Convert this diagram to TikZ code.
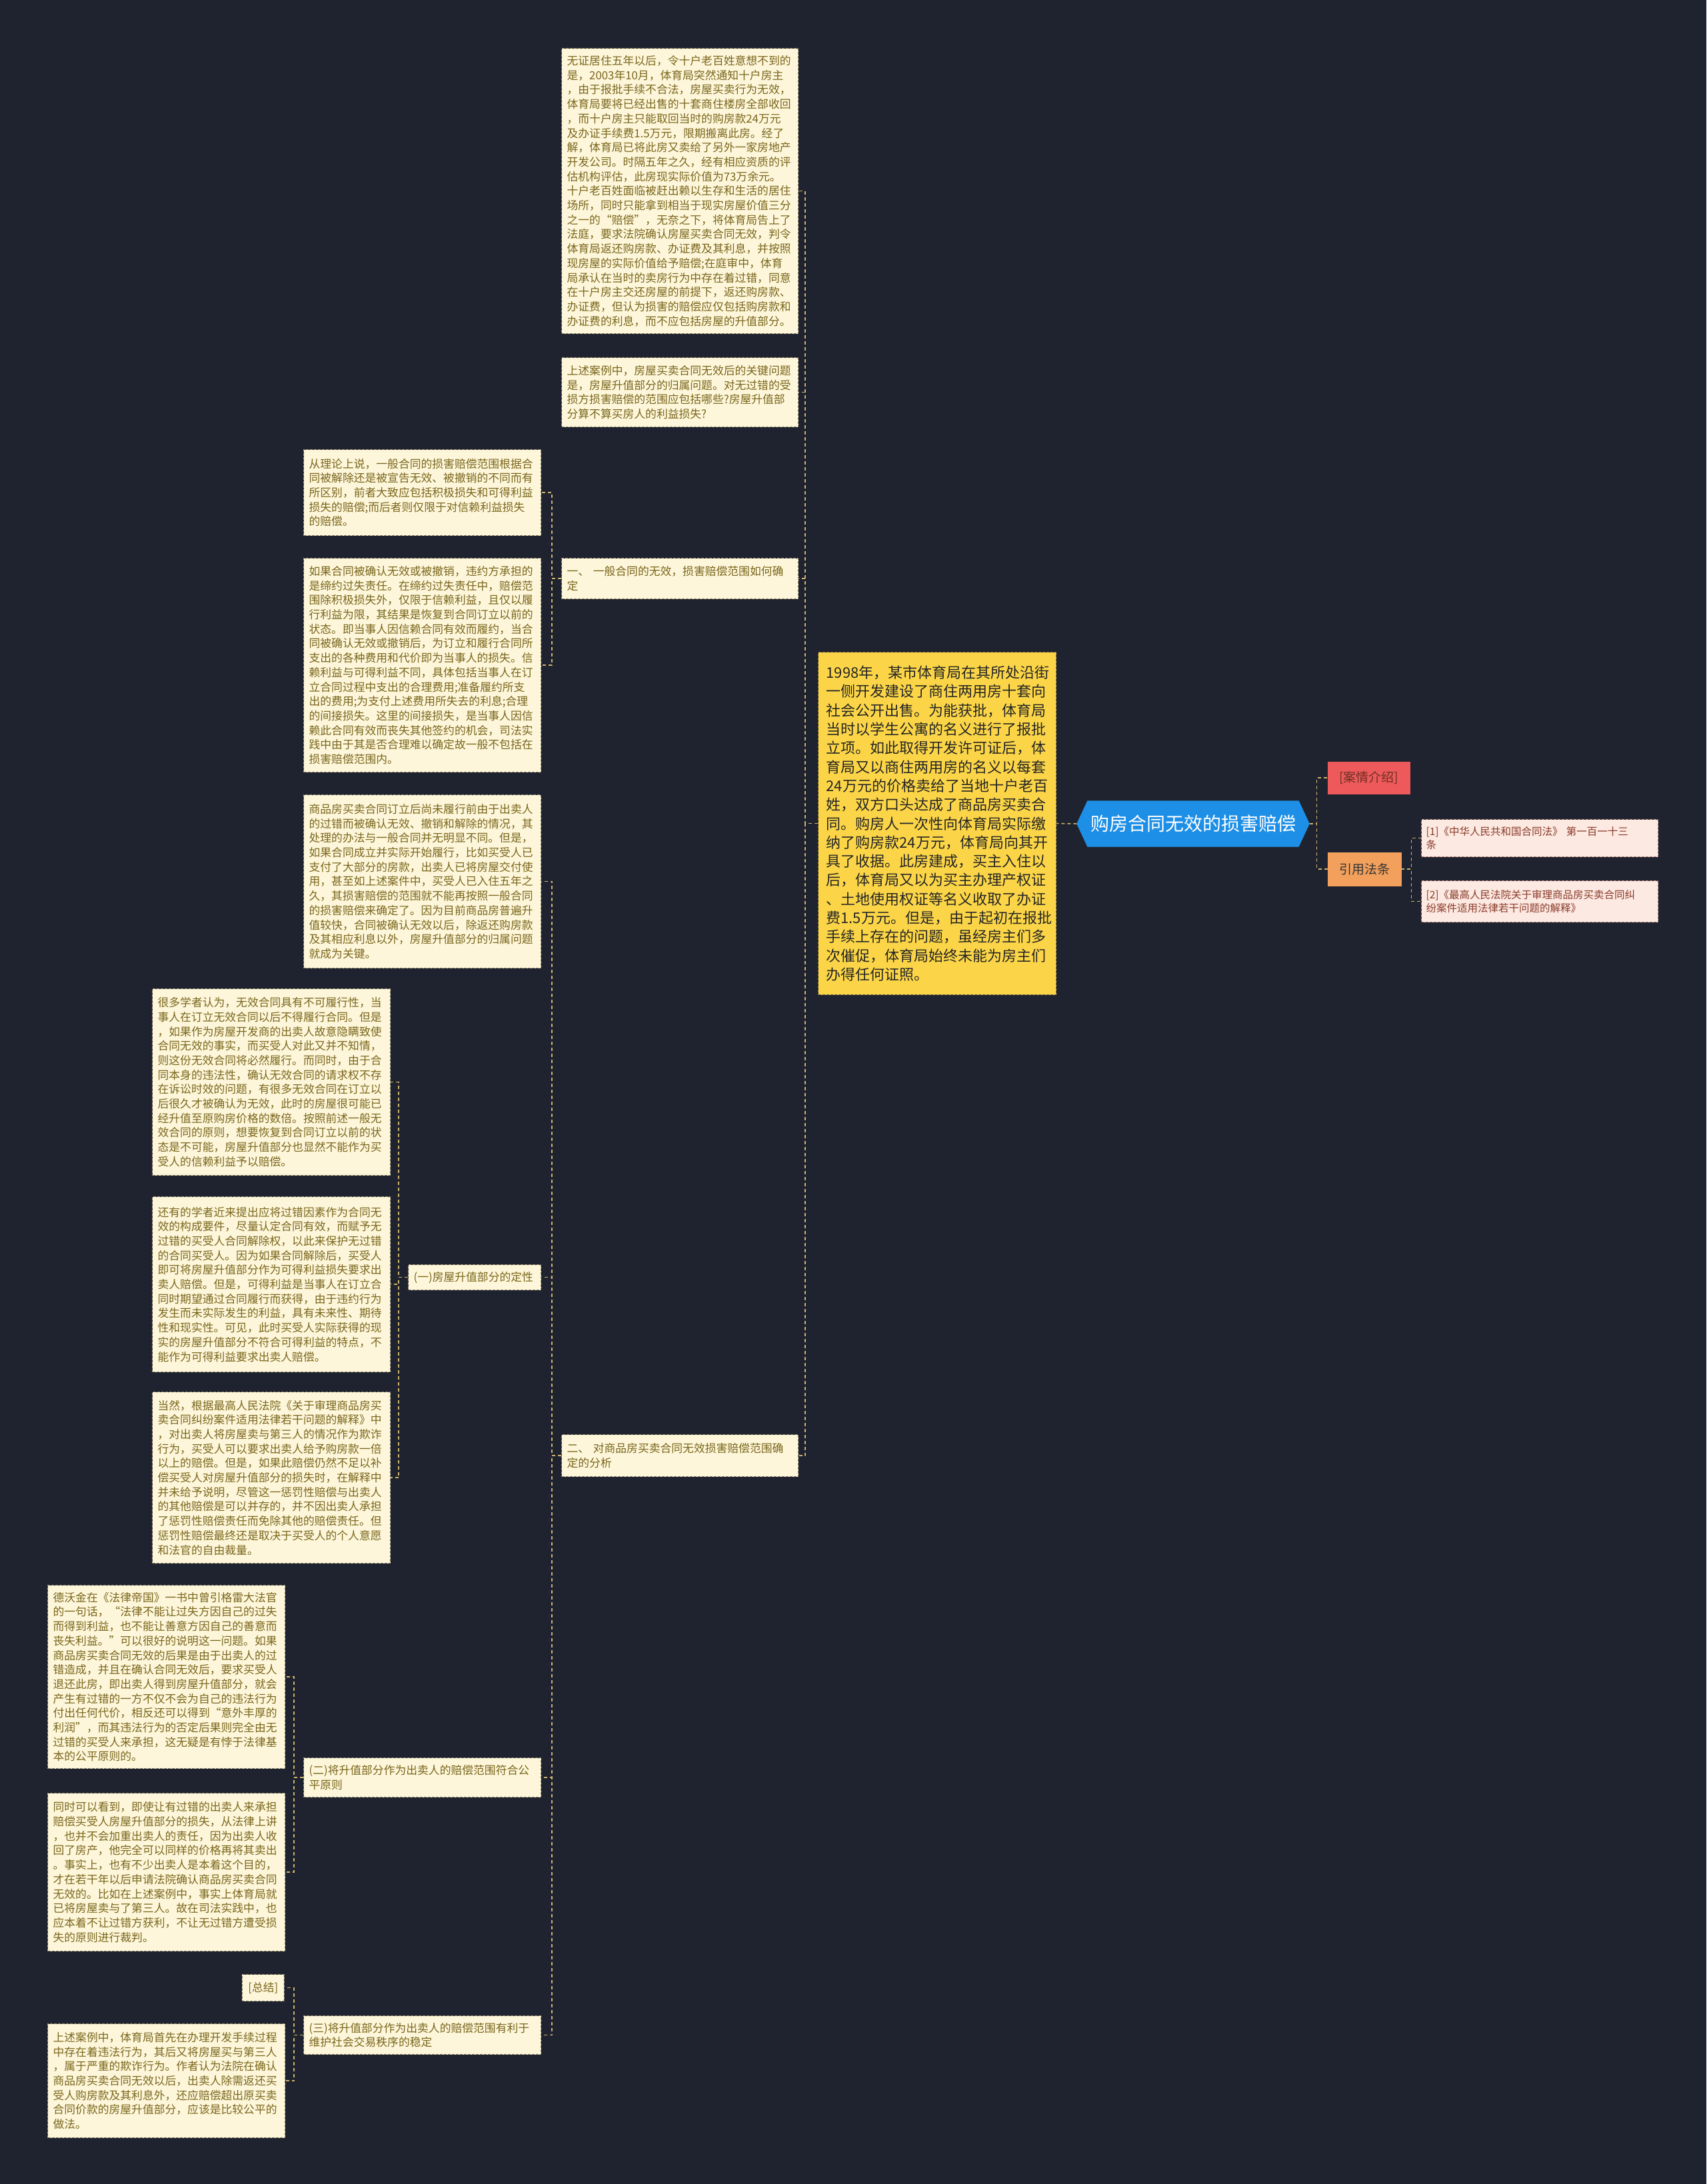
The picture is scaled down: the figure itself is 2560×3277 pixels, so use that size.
\documentclass[tikz,border=0pt]{standalone}
\usepackage{fontspec}
\setmainfont{Noto Sans CJK SC}
\usetikzlibrary{shapes.symbols}
\definecolor{bg}{HTML}{1F2330}
\definecolor{leaffill}{HTML}{FDF6DA}
\definecolor{leafborder}{HTML}{8C8466}
\definecolor{leaftext}{HTML}{7A661C}
\definecolor{conncol}{HTML}{CDB26A}
\definecolor{yellowfill}{HTML}{FBD547}
\definecolor{rootfill}{HTML}{1E8FE6}
\definecolor{redfill}{HTML}{EE5A5C}
\definecolor{orangefill}{HTML}{F2A05C}
\definecolor{reffill}{HTML}{FCE9E1}
\definecolor{reftext}{HTML}{8A3A2A}
\begin{document}
\begin{tikzpicture}[x=1pt,y=-1pt,
  leaf/.style={draw=leafborder, dashed, dash pattern=on 4pt off 2pt, line width=1.2pt, fill=leaffill, text=leaftext,
    font=\fontsize{16.8}{21.7}\selectfont, align=left, inner xsep=8pt, inner ysep=5pt, anchor=north west},
  conn/.style={draw=conncol, dashed, dash pattern=on 5pt off 4pt, line width=1.5pt},
  tag/.style={font=\fontsize{19}{23}\selectfont, inner xsep=6pt, inner ysep=4pt, anchor=north west, align=center},
  ref/.style={draw=reftext!60, dashed, dash pattern=on 4pt off 2pt, line width=1.1pt, fill=reffill, text=reftext,
    font=\fontsize{15.5}{20}\selectfont, align=left, inner xsep=7pt, inner ysep=4pt, anchor=north west}
]
\useasboundingbox (0,0) rectangle (2560,3277);
\fill[bg] (0,0) rectangle (2560,3277);

% root
\node[signal, signal to=east and west, signal pointer angle=130, fill=rootfill, draw=rootfill, text=white,
  font=\fontsize{28}{32}\selectfont, minimum width=349pt, minimum height=69pt, inner xsep=4pt] (R) at (1790,1236) {购房合同无效的损害赔偿};

% yellow case box
\node[draw=bg!60!yellowfill, dashed, dash pattern=on 4pt off 2pt, line width=1.2pt, fill=yellowfill, text=black!85, anchor=north west,
  font=\fontsize{22}{28.3}\selectfont, align=left, inner xsep=12pt, text width=333pt, minimum height=514pt] (Y) at (1227,978) {%
1998年，某市体育局在其所处沿街\\
一侧开发建设了商住两用房十套向\\
社会公开出售。为能获批，体育局\\
当时以学生公寓的名义进行了报批\\
立项。如此取得开发许可证后，体\\
育局又以商住两用房的名义以每套\\
24万元的价格卖给了当地十户老百\\
姓，双方口头达成了商品房买卖合\\
同。购房人一次性向体育局实际缴\\
纳了购房款24万元，体育局向其开\\
具了收据。此房建成，买主入住以\\
后，体育局又以为买主办理产权证\\
、土地使用权证等名义收取了办证\\
费1.5万元。但是，由于起初在报批\\
手续上存在的问题，虽经房主们多\\
次催促，体育局始终未能为房主们\\
办得任何证照。};

% right side
\node[tag, fill=redfill, draw=redfill, text=reftext!80!black, minimum width=123pt, minimum height=48pt] (K1) at (1992,1143) {[案情介绍]};
\node[tag, fill=orangefill, draw=orangefill, text=black!80, minimum width=110pt, minimum height=50pt] (K2) at (1992,1279) {引用法条};
\node[ref, text width=341pt, minimum height=56pt] (F1) at (2132,1229) {[1]《中华人民共和国合同法》 第一百一十三\\条};
\node[ref, text width=341pt, minimum height=62pt] (F2) at (2132,1321) {[2]《最高人民法院关于审理商品房买卖合同纠\\纷案件适用法律若干问题的解释》};

% level A
\node[leaf, text width=339pt, minimum height=428pt] (A1) at (842,72) {%
无证居住五年以后，令十户老百姓意想不到的\\
是，2003年10月，体育局突然通知十户房主\\
，由于报批手续不合法，房屋买卖行为无效，\\
体育局要将已经出售的十套商住楼房全部收回\\
，而十户房主只能取回当时的购房款24万元\\
及办证手续费1.5万元，限期搬离此房。经了\\
解，体育局已将此房又卖给了另外一家房地产\\
开发公司。时隔五年之久，经有相应资质的评\\
估机构评估，此房现实际价值为73万余元。\\
十户老百姓面临被赶出赖以生存和生活的居住\\
场所，同时只能拿到相当于现实房屋价值三分\\
之一的“赔偿”，无奈之下，将体育局告上了\\
法庭，要求法院确认房屋买卖合同无效，判令\\
体育局返还购房款、办证费及其利息，并按照\\
现房屋的实际价值给予赔偿;在庭审中，体育\\
局承认在当时的卖房行为中存在着过错，同意\\
在十户房主交还房屋的前提下，返还购房款、\\
办证费，但认为损害的赔偿应仅包括购房款和\\
办证费的利息，而不应包括房屋的升值部分。};
\node[leaf, text width=339pt, minimum height=104pt] (A2) at (842,536) {%
上述案例中，房屋买卖合同无效后的关键问题\\
是，房屋升值部分的归属问题。对无过错的受\\
损方损害赔偿的范围应包括哪些?房屋升值部\\
分算不算买房人的利益损失?};
\node[leaf, text width=339pt, minimum height=61pt] (A3) at (842,837) {一、 一般合同的无效，损害赔偿范围如何确\\定};
\node[leaf, text width=339pt, minimum height=63pt] (A4) at (842,2152) {二、 对商品房买卖合同无效损害赔偿范围确\\定的分析};

% level B
\node[leaf, text width=340pt, minimum height=129pt] (B1) at (455,674) {%
从理论上说，一般合同的损害赔偿范围根据合\\
同被解除还是被宣告无效、被撤销的不同而有\\
所区别，前者大致应包括积极损失和可得利益\\
损失的赔偿;而后者则仅限于对信赖利益损失\\
的赔偿。};
\node[leaf, text width=340pt, minimum height=321pt] (B2) at (455,837) {%
如果合同被确认无效或被撤销，违约方承担的\\
是缔约过失责任。在缔约过失责任中，赔偿范\\
围除积极损失外，仅限于信赖利益，且仅以履\\
行利益为限，其结果是恢复到合同订立以前的\\
状态。即当事人因信赖合同有效而履约，当合\\
同被确认无效或撤销后，为订立和履行合同所\\
支出的各种费用和代价即为当事人的损失。信\\
赖利益与可得利益不同，具体包括当事人在订\\
立合同过程中支出的合理费用;准备履约所支\\
出的费用;为支付上述费用所失去的利息;合理\\
的间接损失。这里的间接损失，是当事人因信\\
赖此合同有效而丧失其他签约的机会，司法实\\
践中由于其是否合理难以确定故一般不包括在\\
损害赔偿范围内。};
\node[leaf, text width=340pt, minimum height=260pt] (B3) at (455,1192) {%
商品房买卖合同订立后尚未履行前由于出卖人\\
的过错而被确认无效、撤销和解除的情况，其\\
处理的办法与一般合同并无明显不同。但是，\\
如果合同成立并实际开始履行，比如买受人已\\
支付了大部分的房款，出卖人已将房屋交付使\\
用，甚至如上述案件中，买受人已入住五年之\\
久，其损害赔偿的范围就不能再按照一般合同\\
的损害赔偿来确定了。因为目前商品房普遍升\\
值较快，合同被确认无效以后，除返还购房款\\
及其相应利息以外，房屋升值部分的归属问题\\
就成为关键。};
\node[leaf, text width=183pt, minimum height=38pt] (B4) at (612,1897) {(一)房屋升值部分的定性};
\node[leaf, text width=340pt, minimum height=59pt] (B5) at (455,2637) {(二)将升值部分作为出卖人的赔偿范围符合公\\平原则};
\node[leaf, text width=340pt, minimum height=58pt] (B6) at (455,3024) {(三)将升值部分作为出卖人的赔偿范围有利于\\维护社会交易秩序的稳定};

% level C
\node[leaf, text width=341pt, minimum height=280pt] (C1) at (228,1483) {%
很多学者认为，无效合同具有不可履行性，当\\
事人在订立无效合同以后不得履行合同。但是\\
，如果作为房屋开发商的出卖人故意隐瞒致使\\
合同无效的事实，而买受人对此又并不知情，\\
则这份无效合同将必然履行。而同时，由于合\\
同本身的违法性，确认无效合同的请求权不存\\
在诉讼时效的问题，有很多无效合同在订立以\\
后很久才被确认为无效，此时的房屋很可能已\\
经升值至原购房价格的数倍。按照前述一般无\\
效合同的原则，想要恢复到合同订立以前的状\\
态是不可能，房屋升值部分也显然不能作为买\\
受人的信赖利益予以赔偿。};
\node[leaf, text width=341pt, minimum height=263pt] (C2) at (228,1795) {%
还有的学者近来提出应将过错因素作为合同无\\
效的构成要件，尽量认定合同有效，而赋予无\\
过错的买受人合同解除权，以此来保护无过错\\
的合同买受人。因为如果合同解除后，买受人\\
即可将房屋升值部分作为可得利益损失要求出\\
卖人赔偿。但是，可得利益是当事人在订立合\\
同时期望通过合同履行而获得，由于违约行为\\
发生而未实际发生的利益，具有未来性、期待\\
性和现实性。可见，此时买受人实际获得的现\\
实的房屋升值部分不符合可得利益的特点，不\\
能作为可得利益要求出卖人赔偿。};
\node[leaf, text width=341pt, minimum height=257pt] (C3) at (228,2088) {%
当然，根据最高人民法院《关于审理商品房买\\
卖合同纠纷案件适用法律若干问题的解释》中\\
，对出卖人将房屋卖与第三人的情况作为欺诈\\
行为，买受人可以要求出卖人给予购房款一倍\\
以上的赔偿。但是，如果此赔偿仍然不足以补\\
偿买受人对房屋升值部分的损失时，在解释中\\
并未给予说明，尽管这一惩罚性赔偿与出卖人\\
的其他赔偿是可以并存的，并不因出卖人承担\\
了惩罚性赔偿责任而免除其他的赔偿责任。但\\
惩罚性赔偿最终还是取决于买受人的个人意愿\\
和法官的自由裁量。};

% level D
\node[leaf, text width=340pt, minimum height=275pt] (D1) at (71,2378) {%
德沃金在《法律帝国》一书中曾引格雷大法官\\
的一句话，“法律不能让过失方因自己的过失\\
而得到利益，也不能让善意方因自己的善意而\\
丧失利益。”可以很好的说明这一问题。如果\\
商品房买卖合同无效的后果是由于出卖人的过\\
错造成，并且在确认合同无效后，要求买受人\\
退还此房，即出卖人得到房屋升值部分，就会\\
产生有过错的一方不仅不会为自己的违法行为\\
付出任何代价，相反还可以得到“意外丰厚的\\
利润”，而其违法行为的否定后果则完全由无\\
过错的买受人来承担，这无疑是有悖于法律基\\
本的公平原则的。};
\node[leaf, text width=340pt, minimum height=237pt] (D2) at (71,2690) {%
同时可以看到，即使让有过错的出卖人来承担\\
赔偿买受人房屋升值部分的损失，从法律上讲\\
，也并不会加重出卖人的责任，因为出卖人收\\
回了房产，他完全可以同样的价格再将其卖出\\
。事实上，也有不少出卖人是本着这个目的，\\
才在若干年以后申请法院确认商品房买卖合同\\
无效的。比如在上述案例中，事实上体育局就\\
已将房屋卖与了第三人。故在司法实践中，也\\
应本着不让过错方获利，不让无过错方遭受损\\
失的原则进行裁判。};
\node[leaf, minimum width=63pt, minimum height=40pt, anchor=north east] (D3) at (427,2962) {[总结]};
\node[leaf, text width=340pt, minimum height=171pt] (D4) at (71,3036) {%
上述案例中，体育局首先在办理开发手续过程\\
中存在着违法行为，其后又将房屋买与第三人\\
，属于严重的欺诈行为。作者认为法院在确认\\
商品房买卖合同无效以后，出卖人除需返还买\\
受人购房款及其利息外，还应赔偿超出原买卖\\
合同价款的房屋升值部分，应该是比较公平的\\
做法。};

% connectors
\draw[conn] (R.west) -- (Y.east);
\foreach \c in {K1,K2} \draw[conn] (R.east) -- ++(11,0) |- (\c.west);
\foreach \c in {F1,F2} \draw[conn] (K2.east) -- ++(15,0) |- (\c.west);
\foreach \c in {A1,A2,A3,A4} \draw[conn] (Y.west) -- ++(-19,0) |- (\c.east);
\foreach \c in {B1,B2} \draw[conn] (A3.west) -- ++(-14,0) |- (\c.east);
\foreach \c in {B3,B4,B5,B6} \draw[conn] (A4.west) -- ++(-14,0) |- (\c.east);
\foreach \c in {C1,C2,C3} \draw[conn] (B4.west) -- ++(-14,0) |- (\c.east);
\foreach \c in {D1,D2} \draw[conn] (B5.west) -- ++(-14,0) |- (\c.east);
\foreach \c in {D3,D4} \draw[conn] (B6.west) -- ++(-14,0) |- (\c.east);
\end{tikzpicture}
\end{document}
